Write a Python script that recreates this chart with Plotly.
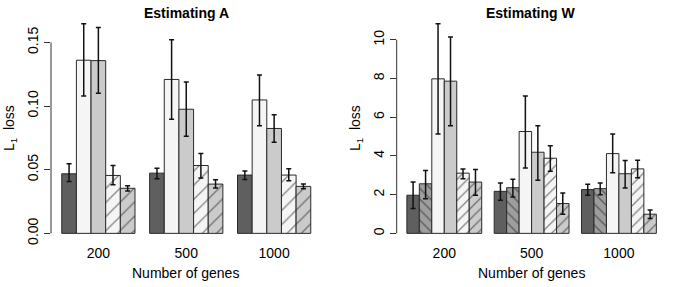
import plotly.graph_objects as go

genes = ["200", "500", "1000"]

# Estimating A: five methods
a_names = ["M1", "M2", "M3", "M4", "M5"]
a_vals = [
    [0.0468, 0.0473, 0.0458],
    [0.1360, 0.1209, 0.1048],
    [0.1357, 0.0975, 0.0824],
    [0.0455, 0.0533, 0.0458],
    [0.0354, 0.0387, 0.0369],
]
a_hi = [
    [0.0546, 0.0512, 0.0489],
    [0.1646, 0.1520, 0.1243],
    [0.1617, 0.1188, 0.0931],
    [0.0533, 0.0627, 0.0507],
    [0.0374, 0.0421, 0.0387],
]
a_lo = [
    [0.0408, 0.0429, 0.0424],
    [0.1079, 0.0897, 0.0845],
    [0.1100, 0.0762, 0.0715],
    [0.0382, 0.0434, 0.0413],
    [0.0333, 0.0356, 0.0351],
]

# Estimating W: six methods
w_names = ["M1", "M1b", "M2", "M3", "M4", "M5"]
w_vals = [
    [1.97, 2.17, 2.26],
    [2.56, 2.36, 2.31],
    [7.98, 5.26, 4.12],
    [7.86, 4.19, 3.08],
    [3.11, 3.88, 3.33],
    [2.65, 1.54, 0.99],
]
w_hi = [
    [2.65, 2.60, 2.53],
    [3.25, 2.79, 2.60],
    [10.82, 7.09, 5.13],
    [10.14, 5.56, 3.76],
    [3.33, 4.53, 3.78],
    [3.30, 2.09, 1.21],
]
w_lo = [
    [1.28, 1.71, 1.97],
    [1.79, 1.88, 2.00],
    [5.13, 3.38, 3.13],
    [5.56, 2.74, 2.34],
    [2.82, 3.21, 2.87],
    [1.97, 0.99, 0.77],
]

a_ticks = [0.00, 0.05, 0.10, 0.15]
a_ticktext = ["0.00", "0.05", "0.10", "0.15"]
w_ticks = [0, 2, 4, 6, 8, 10]

# styles: (fill, hatch shape)
style = {
    "M1": ("#5f5f5f", ""),
    "M1b": ("#9e9e9e", "\\"),
    "M2": ("#f5f5f5", ""),
    "M3": ("#cbcbcb", ""),
    "M4": ("#f5f5f5", "/"),
    "M5": ("#cbcbcb", "/"),
}

W, H = 690, 287
FONT = "Liberation Sans, Arial, sans-serif"
fig = go.Figure()


def add_panel(names, vals, hi, lo, xa, ya, hsize, hsol):
    n = len(names)
    w = 1.0 / (n + 1)
    for i, nm in enumerate(names):
        fill, shape = style[nm]
        v = vals[i]
        fig.add_trace(go.Bar(
            x=genes, y=v, xaxis=xa, yaxis=ya,
            width=w, offset=-n * w / 2 + i * w,
            marker=dict(color=fill, line=dict(color="#2a2a2a", width=1),
                        pattern=dict(shape=shape, fgcolor="#111111", bgcolor=fill,
                                     size=hsize, solidity=hsol, fillmode="overlay")),
            error_y=dict(type="data", symmetric=False,
                         array=[h - b for h, b in zip(hi[i], v)],
                         arrayminus=[b - l for b, l in zip(v, lo[i])],
                         color="#111111", thickness=1.5, width=2.5),
            showlegend=False, hoverinfo="skip",
        ))


add_panel(a_names, a_vals, a_hi, a_lo, "x", "y", 10, 0.13)
add_panel(w_names, w_vals, w_hi, w_lo, "x2", "y2", 7.5, 0.17)

top, bot = 17, 245
zero_px = 235
ydom = [(H - bot) / H, (H - top) / H]
a_scale = (235 - 42.7) / 0.15
w_scale = (235 - 40) / 10.0

xcommon = dict(type="category", categoryarray=genes, showline=False, showgrid=False,
               zeroline=False, ticks="", tickfont=dict(size=14, color="#000", family=FONT),
               ticklabelstandoff=0)
ycommon = dict(showline=False, showgrid=False, zeroline=False, ticks="outside", ticklen=6,
               tickwidth=1, tickcolor="#333333", tickangle=-90,
               tickfont=dict(size=14, color="#000", family=FONT))

fig.update_layout(
    width=W, height=H, margin=dict(l=0, r=0, t=0, b=0),
    paper_bgcolor="white", plot_bgcolor="white", barmode="overlay",
    font=dict(family=FONT, size=14, color="#000"),
    xaxis=dict(domain=[51 / W, 321.5 / W], range=[-0.539, 2.539], anchor="y", **xcommon),
    yaxis=dict(domain=ydom, range=[-(bot - zero_px) / a_scale, (zero_px - top) / a_scale],
               anchor="x", tickvals=a_ticks, ticktext=a_ticktext, **ycommon),
    xaxis2=dict(domain=[396.7 / W, 666.5 / W], range=[-0.545, 2.545], anchor="y2", **xcommon),
    yaxis2=dict(domain=ydom, range=[-(bot - zero_px) / w_scale, (zero_px - top) / w_scale],
                anchor="x2", tickvals=w_ticks, **ycommon),
)

# axis lines spanning first to last tick (R style)
fig.add_shape(type="line", xref="x domain", yref="y", x0=0, x1=0, y0=a_ticks[0], y1=a_ticks[-1],
              line=dict(color="#333333", width=1))
fig.add_shape(type="line", xref="x2 domain", yref="y2", x0=0, x1=0, y0=w_ticks[0], y1=w_ticks[-1],
              line=dict(color="#333333", width=1))

ann = [
    dict(text="<b>Estimating A</b>", x=186.7 / W, y=(H - 13) / H),
    dict(text="<b>Estimating W</b>", x=530.8 / W, y=(H - 13) / H),
    dict(text="Number of genes", x=185.8 / W, y=(H - 275) / H),
    dict(text="Number of genes", x=531 / W, y=(H - 275) / H),
    dict(text="L<sub>1</sub>  loss", x=10 / W, y=(H - 129) / H, textangle=-90),
    dict(text="L<sub>1</sub>  loss", x=356 / W, y=(H - 129) / H, textangle=-90),
]
for a in ann:
    fig.add_annotation(xref="paper", yref="paper", showarrow=False, xanchor="center",
                       yanchor="middle", font=dict(size=14, color="#000", family=FONT), **a)

fig.write_html("out.html", config={"displayModeBar": False},
               post_script="document.body.style.margin='0';")
